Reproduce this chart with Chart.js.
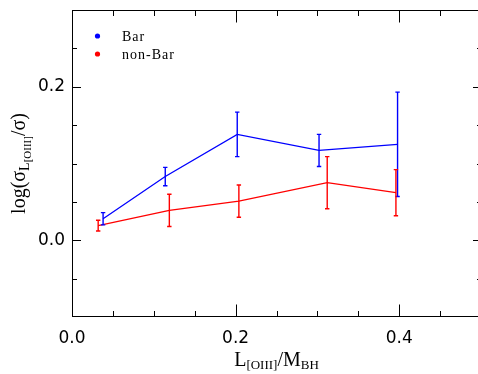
<!DOCTYPE html>
<html>
<head>
<meta charset="utf-8">
<script src="https://cdn.jsdelivr.net/npm/chart.js@4/dist/chart.umd.min.js"></script>
<style>
  html, body { margin: 0; padding: 0; background: #fff; overflow: hidden; }
  #wrap { position: relative; width: 486px; height: 374px; }
</style>
</head>
<body>
<div id="wrap"><canvas id="c"></canvas></div>
<script>
// L[OIII]/M_BH bins and velocity-dispersion ratios
const barX    = [0.038, 0.114, 0.202, 0.302, 0.398];
const barY    = [0.028, 0.083, 0.138, 0.117, 0.125];
const barErr  = [0.008, 0.012, 0.029, 0.021, 0.068];

const nonBarX   = [0.032, 0.119, 0.204, 0.312, 0.396];
const nonBarY   = [0.019, 0.039, 0.051, 0.075, 0.062];
const nonBarErr = [0.007, 0.021, 0.021, 0.034, 0.030];

const seriesNames = ['Bar', 'non-Bar'];

// axis ranges and ticks
const xRange = [0.0, 0.5];
const yRange = [-0.1, 0.3];
const xTickLabels = [0.0, 0.2, 0.4];
const yTickLabels = [0.0, 0.2];
const xMinorTicks = [0.05, 0.1, 0.15, 0.25, 0.3, 0.35, 0.45];
const yMinorTicks = [-0.05, 0.05, 0.1, 0.15, 0.25];

const BLUE = '#0000ff';
const RED = '#ff0000';

function toPoints(xs, ys, es) {
  return xs.map((x, i) => ({ x: x, y: ys[i], err: es[i] }));
}

// Draw segments of mixed-size text (for subscripts) starting at x, baseline y
function segWidth(ctx, segs) {
  let w = 0;
  segs.forEach(s => { ctx.font = s.font; w += ctx.measureText(s.t).width; });
  return w;
}
function drawSegs(ctx, segs, x, y) {
  segs.forEach(s => {
    ctx.font = s.font;
    ctx.fillText(s.t, x, y + (s.dy || 0));
    x += ctx.measureText(s.t).width;
  });
}

const framePlugin = {
  id: 'frameAndErrors',
  afterDatasetsDraw(chart) {
    const ctx = chart.ctx;
    const xs = chart.scales.x, ys = chart.scales.y;
    ctx.save();
    chart.data.datasets.forEach(ds => {
      ctx.strokeStyle = ds.borderColor;
      ctx.lineWidth = 1.4;
      ds.data.forEach(p => {
        const px = xs.getPixelForValue(p.x);
        const top = ys.getPixelForValue(p.y + p.err);
        const bot = ys.getPixelForValue(p.y - p.err);
        ctx.beginPath();
        ctx.moveTo(px, top); ctx.lineTo(px, bot);
        ctx.moveTo(px - 2.2, top); ctx.lineTo(px + 2.2, top);
        ctx.moveTo(px - 2.2, bot); ctx.lineTo(px + 2.2, bot);
        ctx.stroke();
      });
    });
    ctx.restore();
  },
  afterDraw(chart) {
    const ctx = chart.ctx;
    const a = chart.chartArea;
    const xs = chart.scales.x, ys = chart.scales.y;
    const L = a.left + 0.5, R = a.right + 0.5, T = a.top + 0.5, B = a.bottom - 0.5;
    ctx.save();
    ctx.strokeStyle = '#000';
    ctx.lineWidth = 1;
    ctx.strokeRect(L, T, R - L, B - T);

    ctx.beginPath();
    const xt = (vals, len) => vals.forEach(v => {
      const px = Math.round(xs.getPixelForValue(v)) + 0.5;
      ctx.moveTo(px, B); ctx.lineTo(px, B - len);
      ctx.moveTo(px, T); ctx.lineTo(px, T + len);
    });
    const yt = (vals, len) => vals.forEach(v => {
      const py = Math.round(ys.getPixelForValue(v)) + 0.5;
      ctx.moveTo(L, py); ctx.lineTo(L + len, py);
      ctx.moveTo(R, py); ctx.lineTo(R - len, py);
    });
    xt(xTickLabels, 12); xt(xMinorTicks, 5.5);
    yt(yTickLabels, 8.5); yt(yMinorTicks, 4.5);
    ctx.stroke();

    // legend inside the plot
    ctx.letterSpacing = '1px';
    chart.data.datasets.forEach((ds, i) => {
      const cy = 36 + i * 18;
      ctx.fillStyle = ds.borderColor;
      ctx.beginPath();
      ctx.arc(97.5, cy, 2.6, 0, Math.PI * 2);
      ctx.fill();
      ctx.fillStyle = '#000';
      ctx.font = '14px "Liberation Serif"';
      ctx.textBaseline = 'alphabetic';
      ctx.fillText(ds.label, 122, cy + 4.5);
    });
    ctx.letterSpacing = '0px';

    // x-axis title: L[OIII]/M_BH
    ctx.fillStyle = '#000';
    ctx.textBaseline = 'alphabetic';
    const main = '20px "Liberation Serif"';
    const sub = '13px "Liberation Serif"';
    const xSegs = [
      { t: 'L', font: main },
      { t: '[OIII]', font: sub, dy: 3 },
      { t: '/M', font: main },
      { t: 'BH', font: sub, dy: 3 }
    ];
    const cx = (a.left + a.right) / 2;
    drawSegs(ctx, xSegs, cx - segWidth(ctx, xSegs) / 2, 366);

    // y-axis title: log(sigma_L[OIII]/sigma)
    const ySegs = [
      { t: 'log(σ', font: main },
      { t: 'L', font: '14px "Liberation Serif"', dy: 4 },
      { t: '[OIII]', font: '11px "Liberation Serif"', dy: 6 },
      { t: '/σ)', font: main }
    ];
    const cyMid = (a.top + a.bottom) / 2;
    ctx.translate(25, cyMid);
    ctx.rotate(-Math.PI / 2);
    drawSegs(ctx, ySegs, -segWidth(ctx, ySegs) / 2, 0);
    ctx.restore();
  }
};

new Chart(document.getElementById('c'), {
  type: 'line',
  data: {
    datasets: [
      {
        label: seriesNames[0],
        data: toPoints(barX, barY, barErr),
        borderColor: BLUE,
        backgroundColor: BLUE,
        borderWidth: 1.3,
        pointRadius: 0,
        tension: 0
      },
      {
        label: seriesNames[1],
        data: toPoints(nonBarX, nonBarY, nonBarErr),
        borderColor: RED,
        backgroundColor: RED,
        borderWidth: 1.3,
        pointRadius: 0,
        tension: 0
      }
    ]
  },
  options: {
    responsive: true,
    maintainAspectRatio: false,
    animation: false,
    layout: { padding: { top: 10, right: 5, left: 0, bottom: 0 } },
    plugins: { legend: { display: false }, tooltip: { enabled: false } },
    scales: {
      x: {
        type: 'linear',
        min: xRange[0], max: xRange[1],
        afterBuildTicks: s => { s.ticks = xTickLabels.map(v => ({ value: v })); },
        afterFit: s => { s.height = 57; s.paddingLeft = 0; s.paddingRight = 0; },
        grid: { display: false, drawTicks: false },
        border: { display: false },
        ticks: {
          padding: 11,
          color: '#000',
          font: { family: 'DejaVu Sans', size: 17 },
          maxRotation: 0,
          callback: v => v.toFixed(1)
        }
      },
      y: {
        type: 'linear',
        min: yRange[0], max: yRange[1],
        afterBuildTicks: s => { s.ticks = yTickLabels.map(v => ({ value: v })); },
        afterFit: s => { s.width = 72; s.paddingTop = 0; s.paddingBottom = 0; },
        grid: { display: false, drawTicks: false },
        border: { display: false },
        ticks: {
          padding: 7,
          color: '#000',
          font: { family: 'DejaVu Sans', size: 17 },
          callback: v => v.toFixed(1)
        }
      }
    }
  },
  plugins: [framePlugin]
});
</script>
</body>
</html>
